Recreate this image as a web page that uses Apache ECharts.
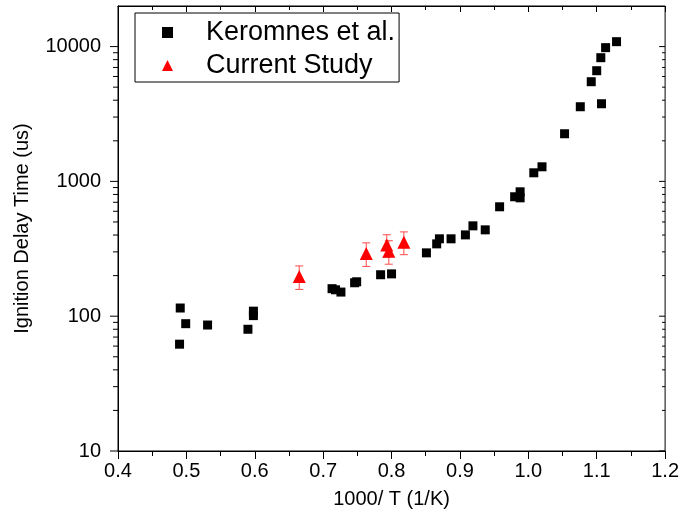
<!DOCTYPE html>
<html>
<head>
<meta charset="utf-8">
<script src="https://cdn.jsdelivr.net/npm/echarts@6/dist/echarts.min.js"></script>
<style>
  html, body { margin: 0; padding: 0; background: #fff; }
  #chart { width: 682px; height: 525px; }
</style>
</head>
<body>
<div id="chart"></div>
<script>
// Keromnes et al. reference measurements: [1000/T (1/K), ignition delay (us)]
const keromnesX = [0.490, 0.491, 0.499, 0.531, 0.590, 0.598, 0.598, 0.713, 0.718, 0.726,
  0.746, 0.749, 0.784, 0.800, 0.851, 0.866, 0.870, 0.887, 0.908, 0.919, 0.937, 0.958,
  0.980, 0.988, 0.988, 1.008, 1.020, 1.053, 1.076, 1.092, 1.100, 1.106, 1.107, 1.113, 1.129];
const keromnesY = [62, 115, 88, 86, 80, 109, 101, 160, 157, 151,
  177, 180, 203, 206, 295, 344, 375, 375, 401, 468, 437, 648,
  769, 837, 755, 1158, 1283, 2256, 3579, 5488, 6622, 8271, 3767, 9820, 10875];

// Current study: mean delay with symmetric error
const currentX = [0.665, 0.763, 0.793, 0.796, 0.818];
const currentY = [197, 292, 338, 303, 354];
const currentErr = [39, 58, 64, 60, 68];

// Axis ticks
const xTicks = ['0.4', '0.5', '0.6', '0.7', '0.8', '0.9', '1.0', '1.1', '1.2'];
const yMajorTicks = [10, 100, 1000, 10000];
const yMinorTicks = [20, 30, 40, 50, 60, 70, 80, 90,
  200, 300, 400, 500, 600, 700, 800, 900,
  2000, 3000, 4000, 5000, 6000, 7000, 8000, 9000];

const X_MIN = 0.4, X_MAX = 1.2, Y_MIN = 10, Y_MAX = 20000;
const FONT = '"Liberation Sans", Arial, sans-serif';

const keromnesData = keromnesX.map((x, i) => [x, keromnesY[i]]);
const currentData = currentX.map((x, i) => [x, currentY[i]]);
const errData = currentX.map((x, i) => [x, currentY[i], currentErr[i]]);
const tickData = yMajorTicks.map(v => [X_MIN, v, 8]).concat(yMinorTicks.map(v => [X_MIN, v, 5]));

const chart = echarts.init(document.getElementById('chart'));

chart.setOption({
  animation: false,
  backgroundColor: '#fff',
  grid: { left: 118, right: 14, top: 6, bottom: 74, show: true, borderColor: '#000', borderWidth: 1 },
  legend: {
    orient: 'vertical',
    left: 135, top: 13,
    padding: [6, 4, 3, 27],
    itemGap: 6,
    itemWidth: 11, itemHeight: 11,
    borderColor: '#000', borderWidth: 1,
    data: [{ name: 'Keromnes et al.', icon: 'rect' }, { name: 'Current Study', icon: 'triangle' }],
    formatter: name => '{gap| }' + name,
    textStyle: {
      color: '#000', fontFamily: FONT, fontSize: 27,
      rich: { gap: { width: 28, fontSize: 27 } }
    }
  },
  xAxis: [{
    type: 'value', min: X_MIN, max: X_MAX, interval: 0.1,
    name: '1000/ T (1/K)', nameLocation: 'middle', nameGap: 38,
    nameTextStyle: { color: '#000', fontFamily: FONT, fontSize: 20 },
    axisLine: { lineStyle: { color: '#000', width: 1 } },
    axisTick: { show: true, inside: false, length: 8, lineStyle: { color: '#000' } },
    minorTick: { show: true, splitNumber: 2, length: 5, lineStyle: { color: '#000' } },
    splitLine: { show: false },
    axisLabel: {
      color: '#000', fontFamily: FONT, fontSize: 20, margin: 10,
      formatter: v => xTicks[Math.round((v - X_MIN) * 10)] || ''
    }
  }, {
    type: 'value', position: 'top', min: X_MIN, max: X_MAX, interval: 0.1,
    axisLine: { lineStyle: { color: '#000' } },
    axisTick: { show: true, inside: true, length: 6, lineStyle: { color: '#000' } },
    minorTick: { show: true, splitNumber: 2, length: 4, lineStyle: { color: '#000' } },
    splitLine: { show: false },
    axisLabel: { show: false }
  }],
  yAxis: [{
    type: 'log', logBase: 10, min: Y_MIN, max: Y_MAX,
    name: 'Ignition Delay Time (us)', nameLocation: 'middle', nameGap: 86,
    nameTextStyle: { color: '#000', fontFamily: FONT, fontSize: 20 },
    axisLine: { show: true, lineStyle: { color: '#000' } },
    axisTick: { show: false },
    splitLine: { show: false },
    axisLabel: {
      color: '#000', fontFamily: FONT, fontSize: 20, margin: 17,
      showMaxLabel: false,
      formatter: v => (yMajorTicks.indexOf(Math.round(v)) >= 0 ? String(Math.round(v)) : '')
    }
  }],
  series: [
    {
      // tick marks of the logarithmic axis: outward on the left, inward on the right
      type: 'custom', name: 'yTicks', silent: true, clip: false,
      data: tickData,
      renderItem: (params, api) => {
        const len = api.value(2);
        const pl = api.coord([X_MIN, api.value(1)]);
        const pr = api.coord([X_MAX, api.value(1)]);
        const st = { stroke: '#000', lineWidth: 1 };
        return {
          type: 'group',
          children: [
            { type: 'line', shape: { x1: pl[0] - len, y1: pl[1], x2: pl[0], y2: pl[1] }, style: st },
            { type: 'line', shape: { x1: pr[0] - len + 2, y1: pr[1], x2: pr[0], y2: pr[1] }, style: st }
          ]
        };
      },
      z: 1
    },
    {
      name: 'Keromnes et al.', type: 'scatter', symbol: 'rect', symbolSize: 9,
      itemStyle: { color: '#000', opacity: 1 },
      data: keromnesData, z: 3
    },
    {
      // error bars of the current study
      type: 'custom', name: 'errorBars', silent: true,
      data: errData,
      renderItem: (params, api) => {
        const x = api.value(0), y = api.value(1), e = api.value(2);
        const top = api.coord([x, y + e]);
        const bot = api.coord([x, y - e]);
        const hw = 4;
        const st = { stroke: '#ff4a4a', lineWidth: 1 };
        return {
          type: 'group',
          children: [
            { type: 'line', shape: { x1: top[0], y1: top[1], x2: bot[0], y2: bot[1] }, style: st },
            { type: 'line', shape: { x1: top[0] - hw, y1: top[1], x2: top[0] + hw, y2: top[1] }, style: st },
            { type: 'line', shape: { x1: bot[0] - hw, y1: bot[1], x2: bot[0] + hw, y2: bot[1] }, style: st }
          ]
        };
      },
      z: 4
    },
    {
      name: 'Current Study', type: 'scatter', symbol: 'triangle', symbolSize: 13,
      itemStyle: { color: '#ff0000', opacity: 1 },
      data: currentData, z: 5
    }
  ]
});
</script>
</body>
</html>
